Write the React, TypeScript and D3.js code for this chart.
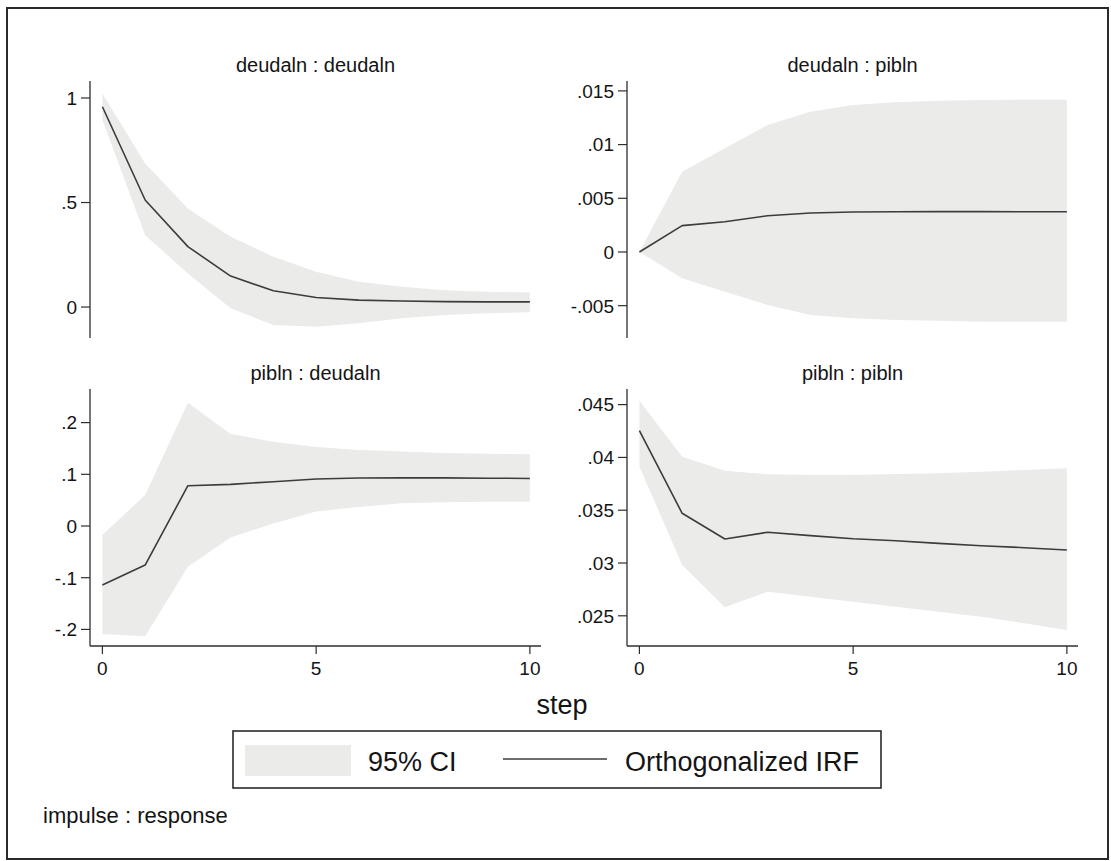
import React from "react";
import * as d3 from "d3";

// ---------- data ----------
const steps = [0, 1, 2, 3, 4, 5, 6, 7, 8, 9, 10];

const ddIrf = [0.958, 0.512, 0.289, 0.148, 0.078, 0.046, 0.033, 0.029, 0.026, 0.025, 0.025];
const ddLo = [0.895, 0.344, 0.161, -0.006, -0.086, -0.094, -0.078, -0.054, -0.038, -0.03, -0.025];
const ddHi = [1.022, 0.687, 0.472, 0.336, 0.241, 0.169, 0.121, 0.097, 0.081, 0.073, 0.07];

const dpIrf = [0, 0.00245, 0.00282, 0.00338, 0.00363, 0.00372, 0.00374, 0.00376, 0.00376, 0.00375, 0.00375];
const dpLo = [0, -0.00245, -0.0037, -0.00493, -0.00587, -0.00618, -0.00633, -0.0064, -0.0065, -0.0065, -0.0065];
const dpHi = [0, 0.00748, 0.00965, 0.01182, 0.01306, 0.01369, 0.01394, 0.01409, 0.01415, 0.01418, 0.01418];

const pdIrf = [-0.114, -0.0755, 0.078, 0.0806, 0.0857, 0.091, 0.0928, 0.093, 0.093, 0.0925, 0.092];
const pdLo = [-0.209, -0.213, -0.079, -0.022, 0.005, 0.028, 0.037, 0.044, 0.046, 0.047, 0.047];
const pdHi = [-0.0174, 0.06, 0.2385, 0.178, 0.163, 0.153, 0.147, 0.144, 0.141, 0.14, 0.139];

const ppIrf = [0.04253, 0.03471, 0.03227, 0.03291, 0.03259, 0.0323, 0.03211, 0.03186, 0.03164, 0.03145, 0.03123];
const ppLo = [0.03912, 0.02981, 0.0258, 0.02728, 0.02681, 0.02634, 0.02586, 0.02539, 0.02491, 0.02429, 0.02366];
const ppHi = [0.04537, 0.04007, 0.03874, 0.0384, 0.03833, 0.03833, 0.03843, 0.0385, 0.03865, 0.03881, 0.03897];

const xTicks = [0, 5, 10];
const xTickLabels = ["0", "5", "10"];

const ddTicks = [0, 0.5, 1];
const ddTickLabels = ["0", ".5", "1"];
const dpTicks = [-0.005, 0, 0.005, 0.01, 0.015];
const dpTickLabels = ["-.005", "0", ".005", ".01", ".015"];
const pdTicks = [-0.2, -0.1, 0, 0.1, 0.2];
const pdTickLabels = ["-.2", "-.1", "0", ".1", ".2"];
const ppTicks = [0.025, 0.03, 0.035, 0.04, 0.045];
const ppTickLabels = [".025", ".03", ".035", ".04", ".045"];

const titles = ["deudaln : deudaln", "deudaln : pibln", "pibln : deudaln", "pibln : pibln"];
const legendLabels = ["95% CI", "Orthogonalized IRF"];
const xTitle = "step";
const note = "impulse : response";

// ---------- style ----------
const FONT = "'Liberation Sans', Arial, Helvetica, sans-serif";
const CI_FILL = "#ebebea";
const LINE = "#3c3c3c";
const AXIS = "#2e2e2e";
const TEXT = "#141414";

type PanelDef = {
  title: string;
  irf: number[];
  lo: number[];
  hi: number[];
  yDomain: [number, number];
  ticks: number[];
  tickLabels: string[];
  x0: number;
  x1: number;
  y0: number;
  y1: number;
  showX: boolean;
};

const panels: PanelDef[] = [
  { title: titles[0], irf: ddIrf, lo: ddLo, hi: ddHi, yDomain: [-0.148, 1.0813], ticks: ddTicks, tickLabels: ddTickLabels, x0: 90, x1: 541, y0: 81, y1: 338, showX: false },
  { title: titles[1], irf: dpIrf, lo: dpLo, hi: dpHi, yDomain: [-0.00801, 0.01592], ticks: dpTicks, tickLabels: dpTickLabels, x0: 627, x1: 1078, y0: 81, y1: 338, showX: false },
  { title: titles[2], irf: pdIrf, lo: pdLo, hi: pdHi, yDomain: [-0.2321, 0.265], ticks: pdTicks, tickLabels: pdTickLabels, x0: 90, x1: 541, y0: 389, y1: 646, showX: true },
  { title: titles[3], irf: ppIrf, lo: ppLo, hi: ppHi, yDomain: [0.02214, 0.04648], ticks: ppTicks, tickLabels: ppTickLabels, x0: 627, x1: 1078, y0: 389, y1: 646, showX: true },
];

function Panel({ p }: { p: PanelDef }) {
  const x = d3.scaleLinear().domain([-0.29, 10.26]).range([p.x0, p.x1]);
  const y = d3.scaleLinear().domain(p.yDomain).range([p.y1, p.y0]);
  const area = d3
    .area<number>()
    .x((_, i) => x(steps[i]))
    .y0((_, i) => y(p.lo[i]))
    .y1((_, i) => y(p.hi[i]));
  const line = d3
    .line<number>()
    .x((_, i) => x(steps[i]))
    .y((d) => y(d));
  const cx = (p.x0 + p.x1) / 2;
  return (
    <g>
      <text x={cx} y={p.y0 - 9} textAnchor="middle" fontSize={20} fill={TEXT} fontFamily={FONT}>
        {p.title}
      </text>
      <path d={area(p.lo) || ""} fill={CI_FILL} stroke="none" />
      <path d={line(p.irf) || ""} fill="none" stroke={LINE} strokeWidth={1.6} strokeLinejoin="round" />
      {/* y axis */}
      <line x1={p.x0} x2={p.x0} y1={p.y0} y2={p.y1} stroke={AXIS} strokeWidth={1.3} />
      {p.ticks.map((t, i) => (
        <g key={i}>
          <line x1={p.x0 - 9} x2={p.x0} y1={y(t)} y2={y(t)} stroke={AXIS} strokeWidth={1.2} />
          <text x={p.x0 - 13} y={y(t)} dy="0.36em" textAnchor="end" fontSize={19} fill={TEXT} fontFamily={FONT}>
            {p.tickLabels[i]}
          </text>
        </g>
      ))}
      {p.showX && (
        <g>
          <line x1={p.x0} x2={p.x1} y1={p.y1} y2={p.y1} stroke={AXIS} strokeWidth={1.3} />
          {xTicks.map((t, i) => (
            <g key={i}>
              <line x1={x(t)} x2={x(t)} y1={p.y1} y2={p.y1 + 8} stroke={AXIS} strokeWidth={1.2} />
              <text x={x(t)} y={p.y1 + 29} textAnchor="middle" fontSize={19} fill={TEXT} fontFamily={FONT}>
                {xTickLabels[i]}
              </text>
            </g>
          ))}
        </g>
      )}
    </g>
  );
}

export default function App() {
  return (
    <svg
      width={1111}
      height={861}
      viewBox="0 0 1111 861"
      style={{ position: "absolute", left: 0, top: 0, background: "#ffffff" }}
    >
      <rect x={0} y={0} width={1111} height={861} fill="#ffffff" />
      <rect x={7} y={8} width={1101} height={851} fill="none" stroke="#2a2a2a" strokeWidth={2} />
      {panels.map((p, i) => (
        <Panel key={i} p={p} />
      ))}
      <text x={562} y={714} textAnchor="middle" fontSize={27} fill={TEXT} fontFamily={FONT}>
        {xTitle}
      </text>
      {/* legend */}
      <rect x={233} y={731} width={648} height={57} fill="#ffffff" stroke="#2a2a2a" strokeWidth={1.6} />
      <rect x={245} y={745} width={106} height={31} fill={CI_FILL} />
      <text x={368} y={771} fontSize={27} fill={TEXT} fontFamily={FONT}>
        {legendLabels[0]}
      </text>
      <line x1={503} x2={607} y1={759} y2={759} stroke={LINE} strokeWidth={1.6} />
      <text x={625} y={771} fontSize={27} fill={TEXT} fontFamily={FONT}>
        {legendLabels[1]}
      </text>
      <text x={43} y={823} fontSize={22} fill={TEXT} fontFamily={FONT}>
        {note}
      </text>
    </svg>
  );
}
